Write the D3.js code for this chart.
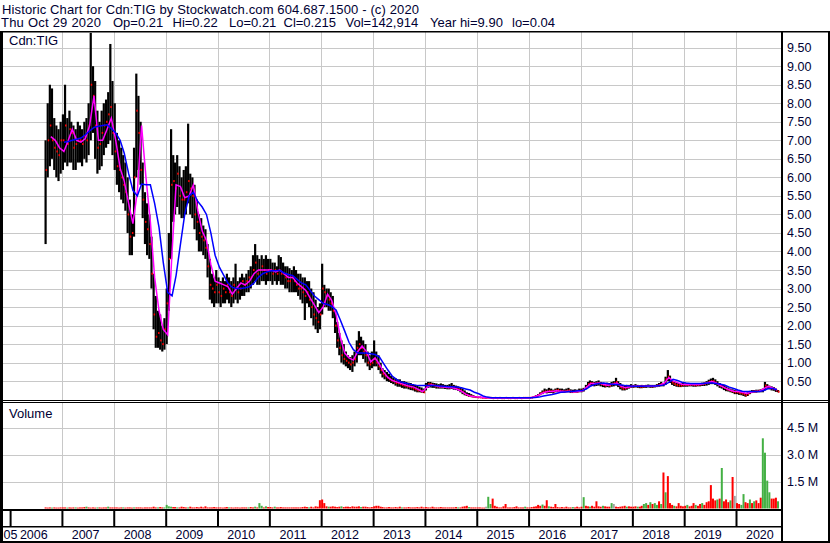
<!DOCTYPE html>
<html>
<head>
<meta charset="utf-8">
<title>Historic Chart for Cdn:TIG</title>
<script src="https://cdn.jsdelivr.net/npm/d3@7"></script>
<style>
  body { margin: 0; background: #fff; }
  svg { display: block; font-family: "Liberation Sans", Arial, sans-serif; }
</style>
</head>
<body>
<svg id="chart" width="830" height="543"></svg>
<script>
// half-month bars, the first one is the 1st half of Sep 2006
const high = [
  7.0, 8.0, 8.5, 8.4, 7.6, 7.4, 7.3, 7.5,
  7.7, 8.5, 7.6, 7.8, 7.5, 7.4, 7.3, 7.5, 7.4, 7.3, 7.5, 7.6, 8.0, 9.9, 9.0, 8.6, 7.8, 7.5, 7.8, 8.0, 8.1, 8.3, 9.6, 8.6,
  8.0, 7.2, 7.0, 6.8, 6.6, 6.4, 6.0, 5.4, 5.0, 6.8, 8.8, 8.2, 7.5, 6.4, 5.6, 5.3, 5.0, 4.4, 3.4, 2.8, 2.4, 2.3, 2.0, 2.2,
  3.0, 4.5, 7.3, 6.6, 6.4, 6.6, 6.3, 6.0, 6.2, 6.3, 7.45, 6.1, 6.0, 5.8, 5.4, 5.0, 4.9, 4.7, 4.6, 4.2, 3.8, 3.4, 3.3, 3.5,
  3.3, 3.2, 3.3, 3.2, 3.4, 3.3, 3.2, 3.3, 3.67, 3.2, 3.3, 3.4, 3.3, 3.4, 3.5, 3.6, 3.9, 4.2, 3.9, 3.8, 3.9, 3.8, 3.9, 3.8,
  3.8, 3.7, 3.7, 3.6, 3.9, 3.85, 3.7, 3.6, 3.6, 3.55, 3.5, 3.6, 3.5, 3.4, 3.4, 3.3, 3.3, 3.2, 3.2, 3.0, 2.9, 2.7, 2.5, 2.6,
  3.67, 3.1, 3.0, 3.0, 2.9, 2.8, 2.4, 2.1, 1.8, 1.6, 1.5, 1.3, 1.2, 1.15, 1.2, 1.3, 1.6, 1.85, 1.7, 1.6, 1.5, 1.3, 1.2, 1.3,
  1.6, 1.3, 1.2, 1.0, 0.85, 0.8, 0.75, 0.7, 0.65, 0.6, 0.58, 0.55, 0.55, 0.5, 0.5, 0.48, 0.46, 0.45, 0.42, 0.4, 0.38, 0.35, 0.33, 0.3,
  0.45, 0.48, 0.48, 0.46, 0.45, 0.44, 0.42, 0.44, 0.42, 0.4, 0.4, 0.42, 0.45, 0.4, 0.38, 0.36, 0.33, 0.3, 0.25, 0.2, 0.18, 0.15, 0.12, 0.1,
  0.08, 0.08, 0.07, 0.07, 0.06, 0.07, 0.06, 0.06, 0.06, 0.06, 0.06, 0.05, 0.06, 0.06, 0.05, 0.06, 0.06, 0.05, 0.06, 0.06, 0.05, 0.06, 0.06, 0.06,
  0.06, 0.07, 0.09, 0.12, 0.15, 0.2, 0.25, 0.3, 0.28, 0.32, 0.3, 0.27, 0.3, 0.32, 0.3, 0.3, 0.28, 0.3, 0.32, 0.28, 0.27, 0.28, 0.27, 0.3,
  0.3, 0.32, 0.4, 0.48, 0.52, 0.5, 0.48, 0.5, 0.52, 0.48, 0.46, 0.45, 0.46, 0.45, 0.48, 0.5, 0.59, 0.5, 0.45, 0.4, 0.38, 0.4, 0.4, 0.42,
  0.4, 0.42, 0.4, 0.39, 0.4, 0.39, 0.4, 0.41, 0.4, 0.4, 0.4, 0.42, 0.45, 0.48, 0.45, 0.62, 0.8, 0.65, 0.55, 0.5, 0.47, 0.45, 0.44, 0.45,
  0.44, 0.45, 0.44, 0.45, 0.44, 0.43, 0.44, 0.45, 0.46, 0.47, 0.5, 0.54, 0.57, 0.59, 0.55, 0.5, 0.45, 0.42, 0.4, 0.36, 0.33, 0.3, 0.28, 0.26,
  0.25, 0.24, 0.22, 0.2, 0.18, 0.2, 0.24, 0.26, 0.26, 0.27, 0.27, 0.28, 0.3, 0.48, 0.42, 0.38, 0.36, 0.34, 0.3, 0.26
];
const low = [
  4.2, 6.0, 6.3, 6.5, 6.2, 6.0, 5.9, 6.1,
  6.2, 6.4, 6.3, 6.4, 6.4, 6.2, 6.2, 6.4, 6.4, 6.3, 6.5, 6.4, 6.6, 7.0, 7.2, 6.5, 6.1, 6.2, 6.3, 6.6, 6.8, 6.9, 7.0, 6.6,
  6.2, 5.8, 5.6, 5.4, 5.3, 5.1, 4.5, 3.9, 3.9, 4.4, 6.0, 6.2, 5.8, 4.9, 4.2, 3.9, 3.8, 3.0, 1.9, 1.4, 1.4, 1.35, 1.3, 1.35,
  1.5, 2.4, 3.8, 4.8, 5.0, 5.2, 5.0, 4.9, 4.9, 5.0, 5.3, 5.0, 4.9, 4.6, 4.3, 4.0, 4.0, 3.9, 3.8, 3.3, 2.7, 2.6, 2.5, 2.6,
  2.6, 2.5, 2.6, 2.6, 2.7, 2.6, 2.5, 2.6, 2.7, 2.6, 2.7, 2.8, 2.8, 2.9, 2.9, 3.0, 3.1, 3.2, 3.1, 3.1, 3.2, 3.2, 3.1, 3.2,
  3.2, 3.1, 3.2, 3.1, 3.2, 3.1, 3.1, 3.0, 3.0, 2.9, 2.9, 2.9, 2.9, 2.8, 2.7, 2.6, 2.15, 2.6, 2.5, 2.2, 2.0, 1.9, 1.8, 1.9,
  2.3, 2.5, 2.5, 2.4, 2.4, 2.2, 1.8, 1.4, 1.2, 1.0, 0.95, 0.9, 0.85, 0.8, 0.75, 0.9, 1.0, 1.2, 1.2, 1.1, 1.0, 0.9, 0.8, 0.85,
  0.9, 0.9, 0.8, 0.7, 0.6, 0.55, 0.5, 0.48, 0.45, 0.42, 0.38, 0.35, 0.35, 0.32, 0.3, 0.3, 0.28, 0.26, 0.25, 0.22, 0.2, 0.2, 0.19, 0.18,
  0.25, 0.32, 0.33, 0.32, 0.32, 0.3, 0.3, 0.3, 0.3, 0.29, 0.28, 0.28, 0.29, 0.27, 0.26, 0.24, 0.2, 0.15, 0.12, 0.1, 0.08, 0.07, 0.06, 0.05,
  0.05, 0.05, 0.04, 0.04, 0.04, 0.04, 0.04, 0.03, 0.04, 0.03, 0.04, 0.03, 0.03, 0.04, 0.03, 0.03, 0.04, 0.03, 0.03, 0.04, 0.03, 0.04, 0.04, 0.04,
  0.04, 0.04, 0.05, 0.07, 0.09, 0.12, 0.15, 0.18, 0.17, 0.18, 0.18, 0.17, 0.2, 0.2, 0.2, 0.19, 0.19, 0.2, 0.2, 0.18, 0.18, 0.19, 0.19, 0.2,
  0.2, 0.22, 0.28, 0.35, 0.38, 0.38, 0.36, 0.37, 0.38, 0.36, 0.34, 0.33, 0.34, 0.33, 0.35, 0.36, 0.38, 0.34, 0.28, 0.25, 0.25, 0.27, 0.3, 0.32,
  0.32, 0.33, 0.32, 0.31, 0.31, 0.32, 0.32, 0.33, 0.32, 0.32, 0.33, 0.34, 0.35, 0.36, 0.36, 0.4, 0.5, 0.45, 0.4, 0.37, 0.35, 0.34, 0.34, 0.35,
  0.35, 0.35, 0.36, 0.36, 0.35, 0.35, 0.36, 0.36, 0.37, 0.37, 0.38, 0.4, 0.42, 0.42, 0.4, 0.36, 0.32, 0.3, 0.26, 0.23, 0.22, 0.2, 0.18, 0.15,
  0.15, 0.13, 0.12, 0.1, 0.08, 0.1, 0.15, 0.18, 0.19, 0.19, 0.2, 0.2, 0.2, 0.25, 0.3, 0.28, 0.25, 0.24, 0.21, 0.2
];
const close = [
  6.2, 7.0, 7.4, 7.0, 6.8, 6.7, 6.6, 7.0,
  7.0, 7.4, 6.9, 7.3, 7.2, 6.8, 6.9, 7.0, 7.0, 6.9, 7.1, 7.0, 7.4, 8.5, 8.2, 7.4, 6.8, 6.9, 7.2, 7.4, 7.5, 7.7, 7.9, 7.2,
  6.7, 6.3, 6.2, 6.0, 5.8, 5.6, 5.0, 4.4, 4.5, 6.0, 7.8, 7.2, 6.2, 5.4, 4.8, 4.6, 4.2, 3.4, 2.3, 1.7, 1.8, 1.6, 1.5, 1.9,
  2.6, 3.8, 5.8, 5.9, 5.7, 6.1, 5.5, 5.4, 5.4, 5.6, 5.9, 5.7, 5.5, 5.0, 4.8, 4.5, 4.4, 4.3, 4.1, 3.6, 3.1, 3.0, 2.9, 3.1,
  2.9, 2.8, 3.0, 2.9, 3.1, 2.9, 2.8, 3.1, 3.0, 2.9, 3.0, 3.2, 3.1, 3.2, 3.3, 3.3, 3.5, 3.7, 3.4, 3.5, 3.6, 3.5, 3.4, 3.5,
  3.5, 3.4, 3.5, 3.4, 3.5, 3.4, 3.4, 3.3, 3.2, 3.2, 3.3, 3.2, 3.1, 3.0, 3.0, 2.9, 2.8, 2.9, 2.7, 2.5, 2.3, 2.2, 2.1, 2.3,
  3.0, 2.9, 2.8, 2.7, 2.6, 2.4, 2.0, 1.6, 1.4, 1.2, 1.1, 1.05, 1.0, 0.95, 1.0, 1.1, 1.4, 1.5, 1.4, 1.3, 1.2, 1.0, 0.95, 1.0,
  1.1, 1.0, 0.9, 0.8, 0.7, 0.65, 0.6, 0.55, 0.52, 0.5, 0.45, 0.45, 0.42, 0.4, 0.38, 0.36, 0.35, 0.33, 0.3, 0.28, 0.25, 0.25, 0.22, 0.2,
  0.38, 0.42, 0.42, 0.4, 0.38, 0.36, 0.35, 0.36, 0.35, 0.34, 0.33, 0.33, 0.35, 0.32, 0.3, 0.28, 0.25, 0.2, 0.15, 0.12, 0.1, 0.09, 0.08, 0.07,
  0.06, 0.06, 0.05, 0.05, 0.05, 0.05, 0.05, 0.04, 0.05, 0.04, 0.05, 0.04, 0.04, 0.05, 0.04, 0.04, 0.05, 0.04, 0.04, 0.05, 0.04, 0.05, 0.05, 0.05,
  0.05, 0.06, 0.08, 0.1, 0.13, 0.17, 0.2, 0.22, 0.22, 0.24, 0.23, 0.22, 0.25, 0.26, 0.24, 0.23, 0.22, 0.24, 0.25, 0.22, 0.21, 0.22, 0.22, 0.24,
  0.25, 0.28, 0.35, 0.42, 0.45, 0.44, 0.42, 0.44, 0.45, 0.42, 0.4, 0.38, 0.4, 0.38, 0.42, 0.45, 0.48, 0.4, 0.34, 0.3, 0.3, 0.33, 0.35, 0.37,
  0.36, 0.37, 0.36, 0.35, 0.35, 0.36, 0.37, 0.37, 0.36, 0.36, 0.37, 0.38, 0.4, 0.42, 0.42, 0.55, 0.62, 0.5, 0.46, 0.42, 0.4, 0.38, 0.38, 0.4,
  0.4, 0.4, 0.4, 0.41, 0.4, 0.39, 0.4, 0.41, 0.42, 0.43, 0.45, 0.48, 0.5, 0.5, 0.46, 0.42, 0.38, 0.35, 0.32, 0.28, 0.26, 0.24, 0.22, 0.2,
  0.2, 0.18, 0.17, 0.15, 0.12, 0.15, 0.2, 0.22, 0.22, 0.23, 0.24, 0.24, 0.26, 0.38, 0.35, 0.32, 0.3, 0.29, 0.25, 0.215
];
// volume in millions per half-month, with r = down, g = up, k = unchanged
const volume = [
  0.06, 0.05, 0.06, 0.05, 0.06, 0.05, 0.05, 0.06,
  0.06, 0.06, 0.05, 0.06, 0.05, 0.06, 0.06, 0.05, 0.06, 0.06, 0.08, 0.1, 0.06, 0.05, 0.06, 0.05, 0.06, 0.06, 0.05, 0.06, 0.06, 0.1, 0.06, 0.06,
  0.06, 0.06, 0.05, 0.06, 0.06, 0.05, 0.06, 0.06, 0.05, 0.06, 0.06, 0.06, 0.06, 0.05, 0.06, 0.06, 0.06, 0.06, 0.1, 0.06, 0.06, 0.08, 0.06, 0.06,
  0.2, 0.12, 0.1, 0.08, 0.08, 0.06, 0.06, 0.1, 0.08, 0.06, 0.06, 0.1, 0.06, 0.06, 0.08, 0.06, 0.1, 0.06, 0.12, 0.06, 0.06, 0.06, 0.08, 0.06,
  0.06, 0.06, 0.05, 0.06, 0.08, 0.06, 0.06, 0.05, 0.06, 0.06, 0.05, 0.06, 0.06, 0.06, 0.06, 0.08, 0.06, 0.1, 0.06, 0.3, 0.15, 0.06, 0.12, 0.08,
  0.08, 0.06, 0.1, 0.06, 0.06, 0.08, 0.06, 0.06, 0.06, 0.06, 0.06, 0.06, 0.06, 0.06, 0.06, 0.08, 0.1, 0.08, 0.06, 0.1, 0.06, 0.12, 0.1, 0.46,
  0.5, 0.3, 0.12, 0.1, 0.1, 0.12, 0.1, 0.08, 0.1, 0.12, 0.08, 0.1, 0.1, 0.08, 0.12, 0.1, 0.1, 0.12, 0.08, 0.1, 0.1, 0.08, 0.06, 0.08,
  0.12, 0.15, 0.15, 0.1, 0.08, 0.06, 0.06, 0.08, 0.06, 0.06, 0.08, 0.06, 0.1, 0.06, 0.06, 0.06, 0.08, 0.06, 0.06, 0.06, 0.08, 0.06, 0.1, 0.06,
  0.08, 0.06, 0.06, 0.1, 0.06, 0.06, 0.06, 0.08, 0.06, 0.06, 0.06, 0.06, 0.06, 0.06, 0.08, 0.06, 0.06, 0.1, 0.12, 0.15, 0.08, 0.06, 0.06, 0.06,
  0.06, 0.06, 0.05, 0.05, 0.1, 0.65, 0.25, 0.55, 0.15, 0.1, 0.06, 0.06, 0.12, 0.25, 0.06, 0.06, 0.06, 0.08, 0.12, 0.06, 0.06, 0.06, 0.1, 0.06,
  0.06, 0.08, 0.1, 0.12, 0.2, 0.15, 0.22, 0.15, 0.46, 0.12, 0.1, 0.08, 0.25, 0.08, 0.06, 0.08, 0.06, 0.1, 0.06, 0.06, 0.08, 0.06, 0.1, 0.06,
  0.1, 0.63, 0.15, 0.12, 0.1, 0.15, 0.1, 0.4, 0.12, 0.1, 0.15, 0.12, 0.1, 0.1, 0.3, 0.25, 0.1, 0.08, 0.1, 0.12, 0.15, 0.1, 0.12, 0.1,
  0.1, 0.12, 0.1, 0.1, 0.15, 0.25, 0.3, 0.2, 0.35, 0.25, 0.3, 0.2, 0.4, 0.25, 2.0, 0.9, 1.8, 0.3, 0.2, 0.15, 0.12, 0.3, 0.15, 0.12,
  0.15, 0.2, 0.12, 0.15, 0.3, 0.2, 0.15, 0.25, 0.3, 0.2, 0.35, 0.4, 1.3, 0.55, 0.45, 0.5, 0.55, 2.25, 0.4, 0.5, 0.35, 0.45, 1.75, 0.7,
  0.3, 0.25, 0.2, 0.8, 0.35, 0.3, 0.5, 0.3, 0.4, 0.45, 0.3, 0.6, 3.9, 3.1, 1.55, 0.9, 0.55, 0.55, 0.6, 0.4
];
const volDir = [
  "rrrgrrrr",
  "rrgrrrgrrrrgrrrrgrrrrgrr",
  "rrrrgrrrrgrrrrrrrrrrgrrg",
  "gggrrgrrrrgrrrrrrrrrrrrr",
  "rrrrrgrrrrrrrrgrrgrggrgr",
  "rrgrrrrrrrrrrrrrrrgrrrrr",
  "rrrgrrrrrgrrrrrrrrgrrrrr",
  "rrrrrrrrrrrrrgrrrrrrrrrr",
  "rrrrrrrrrrrrrrrgrrrrgrrr",
  "rrrrkggrrrrrrrrrrrrrrrgr",
  "rrrrrrgrrgrrrrrrrrrrgrrr",
  "rgrrgrrrrrgrrrgkrrrrrgrr",
  "rrgrrggrgrggrgrgrrrgrrrr",
  "rgrrrgrrgrrrrrrgrgrrrgrk",
  "rrggrrgrgrrrggggrrrg"
].join("");
// monthly moving averages, from Sep 2006 to Oct 2020
const maShort = [
  null, 7.1, 7.0, 6.8,
  6.7, 7.0, 7.3, 7.0, 6.95, 7.05, 7.4, 8.2, 7.0, 7.0, 7.3, 7.6,
  7.0, 6.25, 5.9, 5.3, 4.75, 5.6, 7.4, 6.0, 4.8, 3.3, 2.4, 1.9,
  1.75, 4.0, 5.8, 5.75, 5.45, 5.5, 5.8, 5.1, 4.55, 4.3, 3.65, 3.2,
  3.15, 3.1, 3.05, 2.85, 3.0, 3.15, 3.1, 3.2, 3.4, 3.5, 3.5, 3.5,
  3.5, 3.45, 3.5, 3.4, 3.3, 3.3, 3.15, 3.05, 2.95, 2.75, 2.55, 2.35,
  2.5, 2.85, 2.68, 2.3, 1.69, 1.26, 1.13, 1.07, 1.3, 1.45, 1.3, 1.02,
  1.13, 0.95, 0.75, 0.6, 0.52, 0.48, 0.44, 0.4, 0.36, 0.34, 0.28, 0.22,
  0.33, 0.4, 0.38, 0.35, 0.34, 0.33, 0.32, 0.28, 0.23, 0.15, 0.1, 0.08,
  0.07, 0.06, 0.05, 0.045, 0.045, 0.045, 0.045, 0.045, 0.045, 0.045, 0.045, 0.045,
  0.05, 0.08, 0.13, 0.19, 0.22, 0.22, 0.24, 0.23, 0.22, 0.23, 0.21, 0.22,
  0.24, 0.35, 0.44, 0.44, 0.45, 0.41, 0.39, 0.42, 0.45, 0.36, 0.32, 0.35,
  0.36, 0.36, 0.36, 0.36, 0.36, 0.37, 0.39, 0.45, 0.6, 0.5, 0.46, 0.42,
  0.41, 0.42, 0.41, 0.41, 0.43, 0.46, 0.49, 0.45, 0.38, 0.32, 0.27, 0.23,
  0.22, 0.2, 0.17, 0.2, 0.22, 0.23, 0.3, 0.36, 0.32, 0.27
];
const maLong = [
  null, null, null, null,
  6.95, 6.97, 7.0, 7.03, 7.06, 7.15, 7.25, 7.35, 7.38, 7.4, 7.42, 7.32,
  7.2, 7.0, 6.65, 6.1, 5.65, 5.5, 5.82, 5.8, 5.8, 5.3, 4.65, 3.7,
  2.9, 2.8, 3.35, 4.2, 5.0, 5.5, 5.6, 5.35, 5.2, 5.0, 4.5, 3.9,
  3.57, 3.35, 3.15, 3.03, 3.0, 3.0, 3.02, 3.05, 3.15, 3.3, 3.4, 3.45,
  3.48, 3.48, 3.49, 3.42, 3.38, 3.35, 3.25, 3.15, 3.1, 2.95, 2.8, 2.7,
  2.6, 2.57, 2.52, 2.42, 2.15, 1.85, 1.55, 1.35, 1.26, 1.26, 1.26, 1.24,
  1.22, 1.15, 0.98, 0.8, 0.64, 0.55, 0.48, 0.45, 0.42, 0.4, 0.38, 0.38,
  0.38, 0.38, 0.38, 0.37, 0.36, 0.35, 0.35, 0.34, 0.32, 0.29, 0.26, 0.2,
  0.16, 0.1, 0.07, 0.05, 0.05, 0.05, 0.05, 0.05, 0.05, 0.05, 0.05, 0.05,
  0.05, 0.06, 0.07, 0.1, 0.12, 0.14, 0.17, 0.2, 0.21, 0.22, 0.23, 0.24,
  0.25, 0.3, 0.37, 0.42, 0.44, 0.45, 0.43, 0.42, 0.41, 0.4, 0.38, 0.37,
  0.36, 0.36, 0.36, 0.37, 0.37, 0.37, 0.38, 0.4, 0.47, 0.55, 0.52, 0.47,
  0.45, 0.44, 0.44, 0.44, 0.44, 0.45, 0.45, 0.44, 0.42, 0.39, 0.34, 0.3,
  0.26, 0.23, 0.22, 0.22, 0.22, 0.22, 0.25, 0.3, 0.3, 0.27
];
const years = [2006, 2007, 2008, 2009, 2010, 2011, 2012, 2013, 2014, 2015, 2016, 2017, 2018, 2019, 2020];
const priceTicks = [0.5, 1, 1.5, 2, 2.5, 3, 3.5, 4, 4.5, 5, 5.5, 6, 6.5, 7, 7.5, 8, 8.5, 9, 9.5];
const volTicks = [1.5, 3.0, 4.5];
const titleLine = "Historic Chart for Cdn:TIG by Stockwatch.com 604.687.1500 - (c) 2020";
const quoteLine = ["Thu Oct 29 2020", "Op=0.21", "Hi=0.22", "Lo=0.21", "Cl=0.215", "Vol=142,914", "Year hi=9.90", "lo=0.04"];

const svg = d3.select("#chart");
const textColor = "#000033";
const left = 3, right = 782;
const priceTop = 31, priceBottom = 399.7;
const volTop = 403, volBottom = 508.5;

const x = d3.scaleTime()
  .domain([new Date(2005, 10, 12), new Date(2020, 10, 20)])
  .range([left, right]);
const y = d3.scaleLinear().domain([0, 9.95]).range([priceBottom, priceTop]);
const yVol = d3.scaleLinear().domain([0, 6]).range([volBottom, 400.5]);

const bars = high.map((h, i) => ({
  date: new Date(2006, 8 + Math.floor(i / 2), i % 2 ? 23 : 8),
  hi: h, lo: low[i], cl: close[i], vol: volume[i], dir: volDir[i]
}));
const monthDate = j => new Date(2006, 8 + j, 15);

// header
svg.append("text")
  .attr("x", 2).attr("y", 13.5)
  .attr("textLength", 417).attr("lengthAdjust", "spacing")
  .attr("font-size", 13).attr("fill", textColor)
  .text(titleLine);
const quoteX = [1, 113, 172.5, 229, 283.5, 345.5, 430, 512];
svg.append("g").selectAll("text").data(quoteLine).join("text")
  .attr("x", (d, i) => quoteX[i]).attr("y", 27)
  .attr("font-size", 13).attr("fill", textColor)
  .attr("textLength", (d, i) => i === 0 ? 100 : null)
  .text(d => d);

function grid(g) {
  g.select(".domain").remove();
  g.selectAll(".tick line").attr("stroke", "#c8c8c8").attr("shape-rendering", "crispEdges");
  g.selectAll(".tick text").remove();
}
const gridYears = years.slice(1).map(yr => new Date(yr, 0, 1));

// gridlines
svg.append("g").attr("transform", `translate(${left},0)`)
  .call(d3.axisRight(y).tickValues(priceTicks).tickSize(right - left).tickFormat(""))
  .call(grid);
svg.append("g").attr("transform", `translate(0,${priceTop})`)
  .call(d3.axisBottom(x).tickValues(gridYears).tickSize(priceBottom - priceTop).tickFormat(""))
  .call(grid);
svg.append("g").attr("transform", `translate(${left},0)`)
  .call(d3.axisRight(yVol).tickValues(volTicks).tickSize(right - left).tickFormat(""))
  .call(grid);
svg.append("g").attr("transform", `translate(0,${volTop})`)
  .call(d3.axisBottom(x).tickValues(gridYears).tickSize(volBottom - volTop).tickFormat(""))
  .call(grid);

// price bars and close ticks
svg.append("g").selectAll("rect").data(bars).join("rect")
  .attr("x", d => x(d.date) - 1.1)
  .attr("y", d => y(d.hi))
  .attr("width", 2.2)
  .attr("height", d => Math.max(1, y(d.lo) - y(d.hi)))
  .attr("fill", "#000");
svg.append("g").selectAll("rect").data(bars).join("rect")
  .attr("x", d => x(d.date))
  .attr("y", d => y(d.cl) - 1)
  .attr("width", 1.5)
  .attr("height", 2)
  .attr("fill", "#ff0000");

// moving averages
const maLine = d3.line()
  .defined(d => d != null)
  .x((d, j) => x(monthDate(j)))
  .y(d => y(d));
svg.append("path").datum(maShort)
  .attr("fill", "none").attr("stroke", "#ff00ff").attr("stroke-width", 1.5)
  .attr("d", maLine);
svg.append("path").datum(maLong)
  .attr("fill", "none").attr("stroke", "#0000ff").attr("stroke-width", 1.5)
  .attr("d", maLine);

// volume bars
const volColor = { r: "#ff0000", g: "#44b044", k: "#a0a0a0" };
svg.append("g").selectAll("rect").data(bars).join("rect")
  .attr("x", d => x(d.date) - 1)
  .attr("y", d => yVol(d.vol))
  .attr("width", 2)
  .attr("height", d => volBottom - yVol(d.vol))
  .attr("fill", d => volColor[d.dir]);

// axis band: year ticks and labels
svg.append("g").attr("transform", "translate(0,509)")
  .call(d3.axisBottom(x).tickValues(years.map(yr => new Date(yr, 0, 1))).tickSize(18).tickFormat(""))
  .call(g => g.select(".domain").remove())
  .call(g => g.selectAll(".tick line").attr("stroke", "#000").attr("stroke-width", 2));
svg.append("g").attr("transform", "translate(0,527)")
  .call(d3.axisBottom(x).tickValues(years.map(yr => new Date(yr, 6, 1))).tickSize(0).tickPadding(3)
    .tickFormat(d3.timeFormat("%Y")))
  .call(g => g.select(".domain").remove())
  .call(g => g.selectAll(".tick text")
    .attr("dx", -2.5).attr("font-size", 12.5).attr("font-family", null).attr("fill", textColor));
// only the tail of the 2005 label shows before the first year tick
svg.append("text")
  .attr("x", x(new Date(2006, 0, 1)) + 7.3).attr("y", 539)
  .attr("text-anchor", "end").attr("font-size", 12.5).attr("fill", textColor)
  .text("05");

// right axis labels
svg.append("g").attr("transform", `translate(${right},0)`)
  .call(d3.axisRight(y).tickValues(priceTicks).tickSize(0).tickPadding(5).tickFormat(d3.format(".2f")))
  .call(g => g.select(".domain").remove())
  .call(g => g.selectAll(".tick text").attr("font-size", 12.5).attr("font-family", null).attr("fill", textColor));
svg.append("g").attr("transform", `translate(${right},0)`)
  .call(d3.axisRight(yVol).tickValues(volTicks).tickSize(0).tickPadding(5).tickFormat(d => d.toFixed(1) + " M"))
  .call(g => g.select(".domain").remove())
  .call(g => g.selectAll(".tick text").attr("font-size", 12.5).attr("font-family", null).attr("fill", textColor));

// frame
const frame = [
  [0, 31, 830, 1.5],      // top
  [0, 31, 3, 512],        // left
  [828, 31, 2, 512],      // right
  [0, 541, 830, 2],       // bottom
  [781, 31, 2, 512],      // plot right edge
  [0, 400, 830, 1],       // price / volume separator
  [0, 402, 830, 1],
  [0, 509, 782, 2],       // volume bottom
  [0, 526, 782, 1.5]      // tick row / label row
];
svg.append("g").selectAll("rect").data(frame).join("rect")
  .attr("x", d => d[0]).attr("y", d => d[1])
  .attr("width", d => d[2]).attr("height", d => d[3])
  .attr("fill", "#000");

// panel labels
svg.append("text").attr("x", 9).attr("y", 45)
  .attr("font-size", 13).attr("fill", textColor).text("Cdn:TIG");
svg.append("text").attr("x", 9).attr("y", 418)
  .attr("font-size", 13).attr("fill", textColor).text("Volume");
</script>
</body>
</html>
